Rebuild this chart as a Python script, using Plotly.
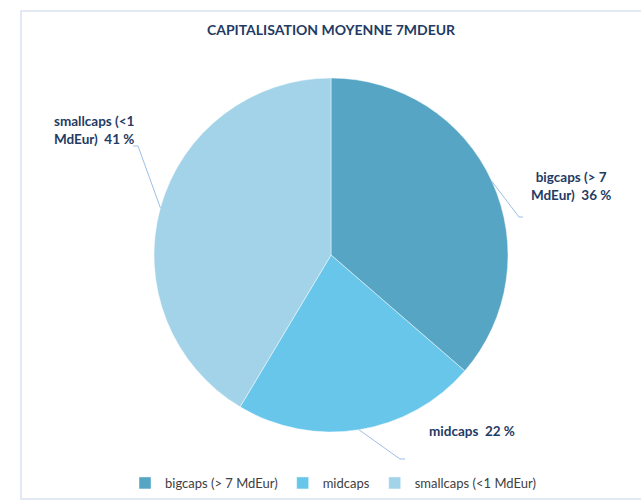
import math
import plotly.graph_objects as go

# ---- data ----
categories = ["bigcaps (> 7 MdEur)", "midcaps", "smallcaps (<1 MdEur)"]
label_text = ["bigcaps (> 7<br>MdEur)", "midcaps", "smallcaps (<1<br>MdEur)"]
values = [36, 22, 41]
title_text = "CAPITALISATION MOYENNE 7MDEUR"

# ---- style / layout ----
W, H = 641, 501
colors = ["#56A5C5", "#67C6EA", "#A2D3E8"]
CX, CY, R = 331, 255, 177
navy = "#1F3B64"
font_family = "Lato, 'Open Sans', sans-serif"

def px(x):
    return x / W

def py(y):
    return 1 - y / H

fig = go.Figure()
fig.add_trace(go.Pie(
    labels=categories,
    values=values,
    sort=False,
    direction="clockwise",
    rotation=0,
    textinfo="none",
    marker=dict(colors=colors, line=dict(color="rgba(255,255,255,0.45)", width=1)),
    domain=dict(x=[px(CX - R), px(CX + R)], y=[py(CY + R), py(CY - R)]),
    hovertemplate="%{label}: %{value} %<extra></extra>",
))

# label anchor placements (layout), leader tips computed from data
label_pos = [  # (x, y, xanchor, align)
    (571, 186, "center", "center"),
    (472, 431, "center", "center"),
    (52, 130, "left", "left"),
]
elbows = [  # (elbow point, end of short horizontal)
    ((519, 217), (523, 217)),
    ((400, 459), (405, 459)),
    ((138, 146), (133, 146)),
]

total = sum(values)
cum = 0
shapes = []
annotations = []
for i, v in enumerate(values):
    mid = (cum + v / 2) / total * 2 * math.pi
    cum += v
    tx = CX + R * math.sin(mid)
    ty = CY - R * math.cos(mid)
    (ex, ey), (hx, hy) = elbows[i]
    path = f"M {px(tx)} {py(ty)} L {px(ex)} {py(ey)} L {px(hx)} {py(hy)}"
    shapes.append(dict(type="path", xref="paper", yref="paper", path=path,
                       line=dict(color="#9DBFE6", width=1)))
    lx, ly, xa, al = label_pos[i]
    annotations.append(dict(
        x=px(lx), y=py(ly), xref="paper", yref="paper",
        xanchor=xa, yanchor="middle", align=al, showarrow=False,
        text=f"<b>{label_text[i]}  {v} %</b>",
        font=dict(family=font_family, size=13.5, color=navy),
    ))

# outer border
shapes.append(dict(type="rect", xref="paper", yref="paper",
                   x0=px(21), x1=px(645), y0=py(499), y1=py(11),
                   line=dict(color="#D9E2F0", width=1.5), layer="below"))

fig.update_layout(
    width=W, height=H,
    margin=dict(l=0, r=0, t=0, b=0, pad=0),
    paper_bgcolor="white", plot_bgcolor="white",
    title=dict(text=f"<b>{title_text}</b>", x=px(331), xanchor="center",
               y=py(30), yanchor="middle", yref="paper",
               font=dict(family=font_family, size=14, color=navy)),
    showlegend=True,
    legend=dict(orientation="h", x=px(333), xanchor="center", y=py(483), yanchor="middle",
                font=dict(family=font_family, size=13, color="#404040"),
                itemwidth=30, tracegroupgap=0),
    shapes=shapes,
    annotations=annotations,
)

fig.write_html("out.html", config={"displayModeBar": False},
               post_script="document.body.style.margin='0';")
